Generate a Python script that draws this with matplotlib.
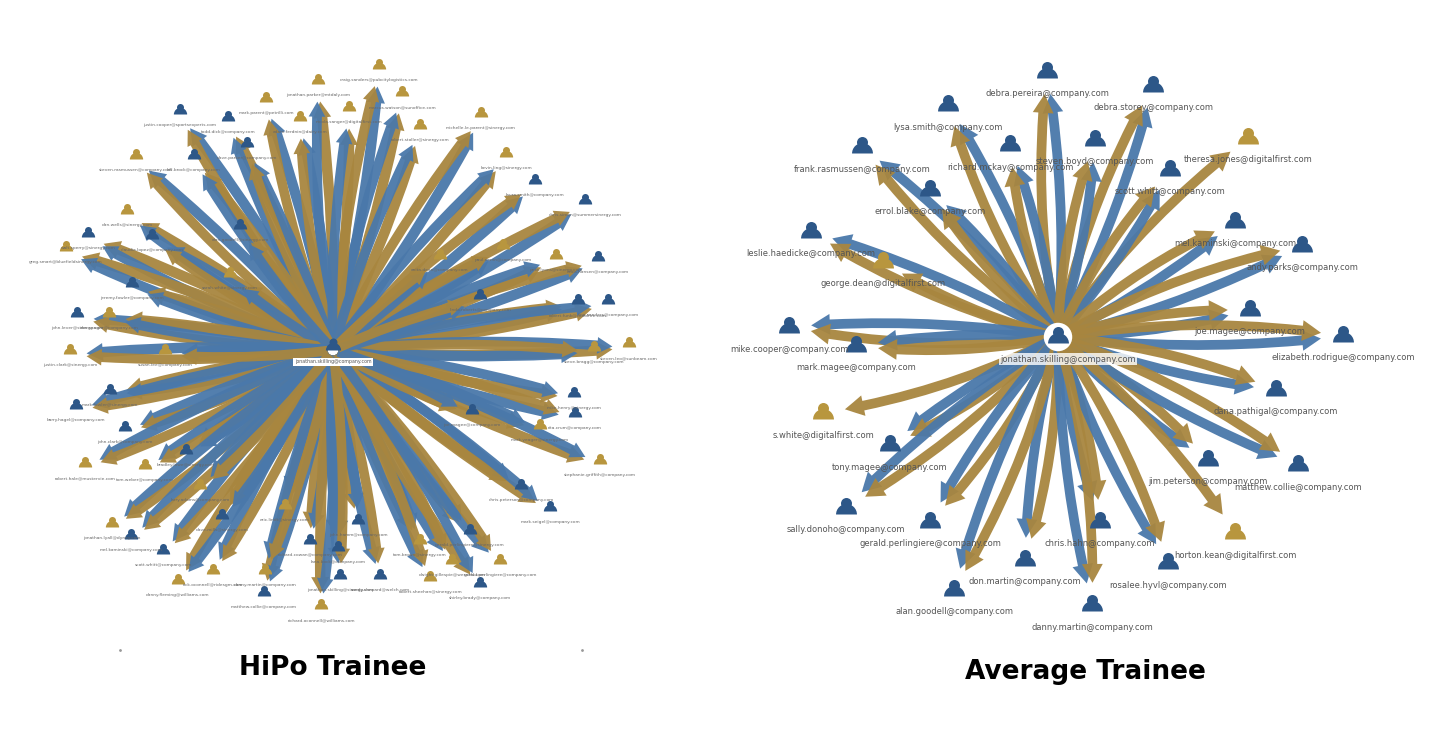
import matplotlib
matplotlib.use("Agg")
import matplotlib.pyplot as plt
from matplotlib.patches import FancyArrowPatch
from matplotlib.path import Path

BLUE = "#4a78aa"
GOLD = "#a8863f"
ICON_B = "#2d5788"
ICON_G = "#b8963e"

# ---- HiPo trainee network (layout positions, pixels) ----
left_center = (333, 350)
left_center_name = "jonathan.skilling@company.com"
left_x = [379, 318, 266, 402, 180, 228, 300, 349, 481, 420, 136, 194, 247, 506, 535, 127, 585, 88, 152, 66,
          598, 556, 503, 132, 440, 230, 77, 109, 578, 608, 70, 629, 594, 110, 76, 574, 125, 540, 575, 600,
          85, 186, 145, 521, 112, 550, 131, 420, 163, 470, 500, 310, 285, 358, 452, 178, 213, 338, 380, 264,
          265, 321, 430, 480, 340, 222, 200, 472, 480, 240, 165]
left_y = [70, 85, 103, 97, 115, 122, 122, 112, 118, 130, 160, 160, 148, 158, 185, 215, 205, 238, 240, 252,
          262, 260, 250, 288, 260, 278, 318, 318, 305, 305, 355, 348, 352, 395, 410, 398, 432, 430, 418, 465,
          468, 455, 470, 490, 528, 512, 540, 545, 555, 535, 565, 545, 510, 525, 565, 585, 575, 552, 580, 597,
          575, 610, 582, 588, 580, 520, 490, 415, 300, 230, 355]
left_kind = list("ggggbbgggggbbgbgbbbg" "bggbggbgbbgggbbbbgbg" "gbgbgbbgbbgbgbgggbbb" "gggbbbgbbbg")
left_names = [
    "craig.sanders@pubcitylogistics.com", "jonathan.parker@mtdaly.com", "mark.parent@petrilli.com",
    "marcus.watson@sunoffice.com", "justin.cooper@sportsexperts.com", "todd.dick@company.com",
    "adam.ferdnin@dairy.com", "nicola.sanger@digitalfirst.com", "michelle.le.parent@sinergy.com",
    "robert.stoller@sinergy.com", "steven.rasmussen@company.com", "bill.brock@company.com",
    "dave.parker@company.com", "kevin.ling@sinergy.com", "laura.smith@company.com",
    "dan.wells@sinergy.com", "chris.simon@summersinergy.com", "walt.sperry@sinergy.com",
    "claudia.lopez@company.com", "greg.smart@bluefieldsinergy.com", "erica.hansen@company.com",
    "pete.lyons@sinergy.com", "paul.mann@company.com", "jeremy.fowler@company.com",
    "anita.dean@company.com", "sarah.white@sinergy.com", "john.lever@sinergy.com",
    "dan.seager@company.com", "robert.funk@cooolfire.com", "tina.sanders@company.com",
    "justin.clark@sinergy.com", "steven.leo@sunbeam.com", "steve.bragg@company.com",
    "mark.fowler@sinergy.com", "barry.hagel@company.com", "mike.henry@sinergy.com",
    "john.clark@company.com", "mark.yeager@sinergy.com", "rita.crum@company.com",
    "stephanie.griffith@company.com", "robert.hale@mustervie.com", "bradley.lowe@sinergy.com",
    "tom.weber@company.com", "chris.peterson@company.com", "jonathan.lyall@dyney.com",
    "mark.seigel@company.com", "mel.kaminski@company.com", "tom.brown@sinergy.com",
    "scott.whitt@company.com", "gerald.perlingiere@sinergy.com", "gerald.perlingiere@company.com",
    "richard.cowan@company.com", "eric.lindt@sinergy.com", "john.hamm@company.com",
    "dwight.gillespie@wessels.com", "danny.fleming@williams.com", "rick.oconnell@ridesgm.com",
    "lana.bock@company.com", "sandy.shepard@welch.com", "matthew.collie@company.com",
    "danny.martin@company.com", "richard.oconnell@williams.com", "robert.sheehan@sinergy.com",
    "shirley.brady@company.com", "jonathan.skilling@sinergy.com", "dave.mills@sinergy.com",
    "larry.adams@company.com", "joe.magee@company.com", "linda.roberts@company.com",
    "alan.goodell@sinergy.com", "susan.lee@company.com"]

# ---- Average trainee network (layout positions, pixels) ----
right_center = (1058, 337)
right_center_name = "jonathan.skilling@company.com"
right_names = [
    "debra.pereira@company.com", "debra.storey@company.com", "lysa.smith@company.com",
    "richard.mckay@company.com", "steven.boyd@company.com", "theresa.jones@digitalfirst.com",
    "frank.rasmussen@company.com", "scott.whitt@company.com", "errol.blake@company.com",
    "mel.kaminski@company.com", "andy.parks@company.com", "leslie.haedicke@company.com",
    "george.dean@digitalfirst.com", "joe.magee@company.com", "elizabeth.rodrigue@company.com",
    "mike.cooper@company.com", "mark.magee@company.com", "dana.pathigal@company.com",
    "s.white@digitalfirst.com", "tony.magee@company.com", "jim.peterson@company.com",
    "matthew.collie@company.com", "sally.donoho@company.com", "gerald.perlingiere@company.com",
    "horton.kean@digitalfirst.com", "chris.hahn@company.com", "rosalee.hyvl@company.com",
    "don.martin@company.com", "alan.goodell@company.com", "danny.martin@company.com"]
right_x = [1047, 1153, 948, 1010, 1095, 1248, 862, 1170, 930, 1235, 1302, 811, 883, 1250, 1343,
           789, 856, 1276, 823, 890, 1208, 1298, 846, 930, 1235, 1100, 1168, 1025, 954, 1092]
right_y = [72, 86, 105, 145, 140, 138, 147, 170, 190, 222, 246, 232, 262, 310, 336,
           327, 346, 390, 413, 445, 460, 465, 508, 522, 533, 522, 563, 560, 590, 605]
right_kind = list("bbbbbgbbbbbbgbbbbbgbbbbbgbbbbb")
right_edges = ["bg", "bg", "bg", "bg", "bg", "g", "bg", "bg", "bg", "bg", "bg", "bg", "g", "bg", "bg",
               "bg", "bg", "bg", "g", "bg", "bg", "bg", "bg", "bg", "g", "bg", "bg", "bg", "bg", "bg"]

BODY = Path.wedge(0, 180)


def person(ax, x, y, color, px):
    # px: icon height in pixels (1 px = 0.72 pt at dpi 100)
    pt = px * 0.72
    ax.scatter([x], [y - px * 0.22], s=(pt * 0.5) ** 2, color=color, marker="o", zorder=6, linewidths=0)
    ax.scatter([x], [y + px * 0.25], s=(pt * 0.95) ** 2, color=color, marker=BODY, zorder=6, linewidths=0)


def arrow(ax, start, end, color, rad, width, head, shrink):
    ax.add_patch(FancyArrowPatch(start, end, connectionstyle=f"arc3,rad={rad}",
                                 arrowstyle=f"simple,head_width={head},head_length={head * 0.9},tail_width={width}",
                                 mutation_scale=10, color=color, lw=0, shrinkA=4, shrinkB=shrink, zorder=3,
                                 alpha=0.95))


fig = plt.figure(figsize=(14.42, 7.34), dpi=100)
ax = fig.add_axes([0, 0, 1, 1])
ax.set_xlim(0, 1442)
ax.set_ylim(734, 0)
ax.axis("off")

# left network
cx, cy = left_center
for i, (x, y) in enumerate(zip(left_x, left_y)):
    arrow(ax, (cx, cy), (x, y), BLUE if i % 2 == 0 else GOLD, 0.04, 0.75, 1.3, 12)
    arrow(ax, (cx, cy), (x, y), GOLD if i % 2 == 0 else BLUE, -0.05, 0.7, 1.2, 12)
for x, y, k, n in zip(left_x, left_y, left_kind, left_names):
    person(ax, x, y - 5, ICON_B if k == "b" else ICON_G, 14)
    ax.text(x, y + 10, n, fontsize=3.2, color="#666666", ha="center", va="center", zorder=7)
person(ax, cx, cy - 4, ICON_B, 16)
ax.text(cx, cy + 12, left_center_name, fontsize=3.4, color="#555555", ha="center", va="center", zorder=7,
        bbox=dict(facecolor="white", edgecolor="none", pad=1))
ax.plot([120, 582], [650, 650], ls="none", marker="o", ms=1, color="#999999")

# right network
cx, cy = right_center
for x, y, e in zip(right_x, right_y, right_edges):
    if "b" in e:
        arrow(ax, (cx, cy), (x, y), BLUE, 0.06, 0.7, 1.5, 16)
    if "g" in e:
        arrow(ax, (cx, cy), (x, y), GOLD, -0.08, 0.7, 1.5, 16)
ax.scatter([cx], [cy], s=420, facecolor="white", edgecolor="none", zorder=5)
for x, y, k, n in zip(right_x, right_y, right_kind, right_names):
    person(ax, x, y, ICON_B if k == "b" else ICON_G, 22)
    ax.text(x, y + 22, n, fontsize=6, color="#555555", ha="center", va="center", zorder=7)
person(ax, cx, cy, ICON_B, 22)
ax.text(cx + 10, cy + 22, right_center_name, fontsize=6, color="#555555", ha="center", va="center",
        zorder=7, bbox=dict(facecolor="white", edgecolor="none", pad=1, alpha=0.8))

ax.text(333, 668, "HiPo Trainee", fontsize=19, fontweight="bold", ha="center", va="center")
ax.text(1085, 672, "Average Trainee", fontsize=19, fontweight="bold", ha="center", va="center")

fig.savefig("out.png", dpi=100)
